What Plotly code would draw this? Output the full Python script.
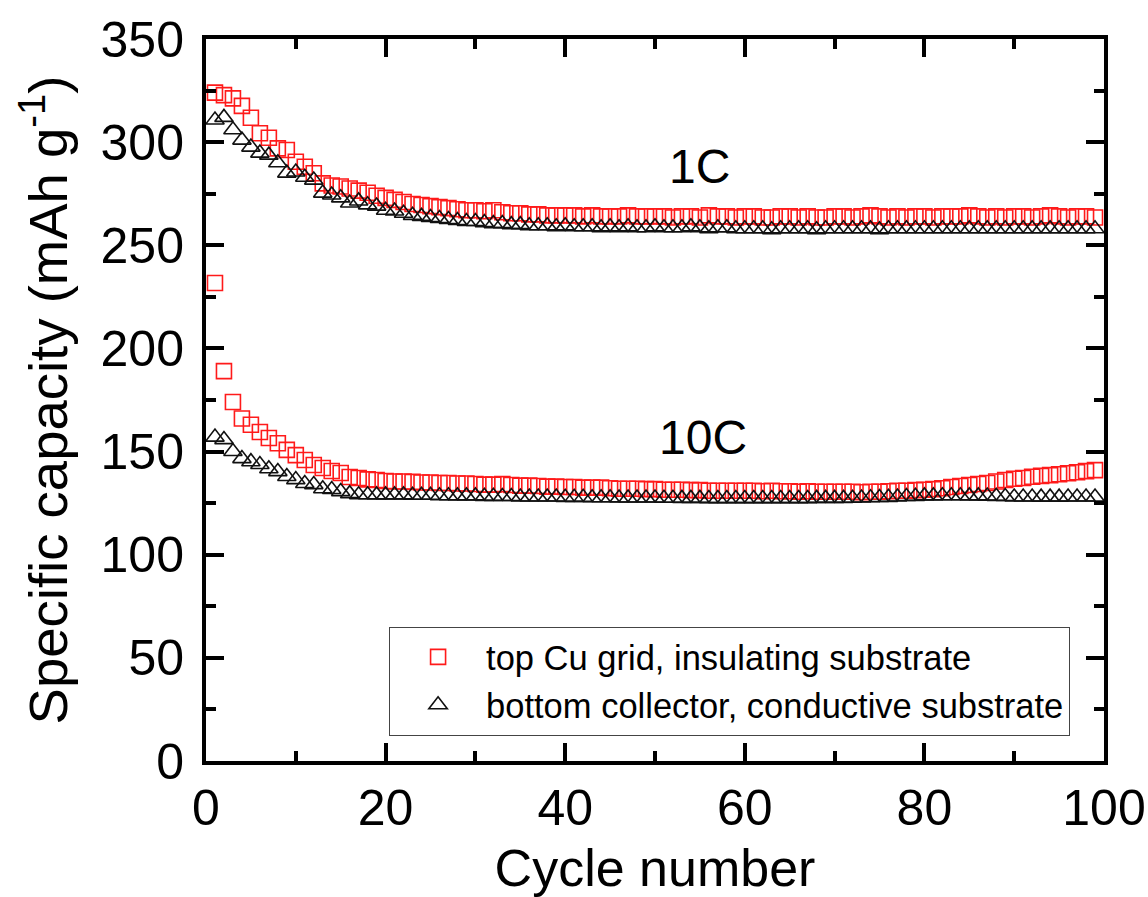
import plotly.graph_objects as go

cycles = list(range(1, 100))

red_1c = [324, 322.8, 321.2, 317.6, 311.8, 304.3, 302.1, 297, 296.2, 290.5,
          288.1, 284.9, 280, 279, 278.5, 277.5, 276.5, 275.5, 274, 273,
          272, 271, 270, 269.5, 269, 268.5, 268, 267.5, 267, 267,
          266.5, 267, 266, 265.5, 265.5, 265, 265, 264.5, 264.5, 264.5,
          264.5, 264, 264.5, 264, 264, 264, 264.5, 264, 264, 264,
          264, 263.5, 264, 264, 263.5, 264.5, 264, 264, 263.5, 264,
          264, 263.5, 263.5, 264, 264, 263.5, 264, 263.5, 263.5, 264,
          264, 263.5, 264, 264.5, 264, 263.5, 264, 263.5, 264, 264,
          263.5, 264, 264, 264, 264.5, 264, 263.5, 264, 263.5, 264,
          264, 263.5, 264, 264.5, 264, 263.5, 264, 264, 263.5]

black_1c = [310.7, 312, 306, 301, 297.6, 294.7, 293.7, 290, 285, 285.5,
            283, 281.6, 275.3, 274.4, 273, 270.5, 271.5, 269.6, 269, 267,
            266.6, 265.5, 264.5, 264, 263.5, 263, 262.5, 262, 261.5, 261.5,
            261, 260.5, 260.5, 260, 260, 259.5, 259.5, 259.5, 259, 259.5,
            259, 259, 259, 258.5, 259, 258.5, 259, 258.5, 258.5, 259,
            258.5, 258.5, 258.5, 259, 258.5, 258, 258.5, 258.5, 258, 258,
            258, 258, 257.5, 258, 258, 258, 258, 257.5, 258, 258,
            258, 258, 258, 258, 257.5, 258, 258, 258, 258, 258,
            258, 258, 258, 258, 258, 258, 258, 258, 258, 258,
            258, 258, 258, 258, 258, 258, 258, 258, 258]

red_10c = [231.7, 189, 174, 166, 163, 159.5, 156.6, 154, 150.8, 148.3,
           145.9, 143.5, 142, 140.6, 139.6, 137.7, 137.2, 136.5, 136.2, 135.7,
           135.5, 135.5, 135.3, 135, 135, 134.8, 134.8, 134.5, 134.5, 134.3,
           134, 134, 134.2, 133.8, 133.5, 133.5, 133.3, 133, 133, 132.8,
           132.8, 132.5, 132.5, 132.5, 132.2, 132, 132, 132, 131.8, 131.8,
           131.5, 131.5, 131.5, 131.3, 131.3, 131, 131, 131, 131, 131,
           131, 130.8, 131, 130.8, 130.8, 130.5, 130.8, 130.5, 130.5, 130.5,
           130.5, 130.5, 130.3, 130.5, 130.5, 130.8, 131, 131, 131.3, 131.5,
           131.8, 132.2, 132.8, 133.3, 133.8, 134.3, 134.8, 135.5, 136.2, 136.8,
           137.2, 137.8, 138.2, 138.6, 139, 139.5, 140, 140.5, 141]

black_10c = [157, 155.8, 150, 146.6, 145.1, 143.7, 141.7, 140.3, 137.9, 136.4,
             134.5, 134, 132, 131.6, 130.6, 129.6, 129.1, 129.1, 129, 129,
             129, 129, 128.8, 128.8, 128.8, 128.6, 128.6, 128.5, 128.5, 128.5,
             128.3, 128.3, 128.2, 128.2, 128, 128, 128, 128, 128, 127.8,
             127.8, 127.8, 127.6, 127.6, 127.6, 127.5, 127.5, 127.5, 127.5, 127.5,
             127.4, 127.4, 127.3, 127.3, 127.3, 127.2, 127.2, 127.2, 127.2, 127.2,
             127.2, 127.2, 127.2, 127.2, 127.2, 127.2, 127.2, 127.3, 127.3, 127.3,
             127.3, 127.4, 127.5, 127.6, 127.7, 127.8, 128, 128.2, 128.3, 128.5,
             128.5, 128.6, 128.6, 128.6, 128.5, 128.5, 128.4, 128.3, 128.2, 128,
             128, 128, 127.9, 127.9, 127.9, 128, 128, 128, 128]

legend_labels = ["top Cu grid, insulating substrate",
                 "bottom collector, conductive substrate"]
rate_labels = ["1C", "10C"]
rate_label_pos = [(55, 288), (55.3, 157)]

x_ticks = [0, 20, 40, 60, 80, 100]
y_ticks = [0, 50, 100, 150, 200, 250, 300, 350]

FONT = "Liberation Sans, Arial, sans-serif"
RED = "#ff1a1a"
BLACK = "#111111"

sq = dict(symbol="square-open", size=15, color=RED, line=dict(width=1.6, color=RED))
tri = dict(symbol="triangle-up-open", size=16, color=BLACK, line=dict(width=1.6, color=BLACK))

fig = go.Figure()
fig.add_trace(go.Scatter(x=cycles, y=red_1c, mode="markers", marker=sq,
                         name=legend_labels[0], legendgroup="red", showlegend=True))
fig.add_trace(go.Scatter(x=cycles, y=red_10c, mode="markers", marker=sq,
                         name=legend_labels[0], legendgroup="red", showlegend=False))
fig.add_trace(go.Scatter(x=cycles, y=black_1c, mode="markers", marker=tri,
                         name=legend_labels[1], legendgroup="black", showlegend=True))
fig.add_trace(go.Scatter(x=cycles, y=black_10c, mode="markers", marker=tri,
                         name=legend_labels[1], legendgroup="black", showlegend=False))

for txt, (ax, ay) in zip(rate_labels, rate_label_pos):
    fig.add_annotation(x=ax, y=ay, text=txt, showarrow=False,
                       font=dict(family=FONT, size=48, color="black"))

axis_common = dict(
    showline=True, linewidth=4, linecolor="black", mirror="allticks",
    ticks="inside", ticklen=18, tickwidth=4, tickcolor="black",
    showgrid=False, zeroline=False,
    tickfont=dict(family=FONT, size=50, color="black"),
)

fig.update_xaxes(range=[0, 100], tickvals=x_ticks,
                 minor=dict(ticks="inside", ticklen=10, tickwidth=4, tickcolor="black", dtick=10, tick0=0),
                 title=dict(text="Cycle number", font=dict(family=FONT, size=52, color="black"), standoff=16),
                 **axis_common)
fig.update_yaxes(range=[0, 350], tickvals=y_ticks,
                 minor=dict(ticks="inside", ticklen=10, tickwidth=4, tickcolor="black", dtick=25, tick0=0),
                 title=dict(text="Specific capacity (mAh g<sup>-1</sup>)",
                            font=dict(family=FONT, size=54.5, color="black"), standoff=16),
                 ticklabelstandoff=8,
                 **axis_common)

fig.update_layout(
    width=1148, height=897,
    margin=dict(l=206, r=44, t=39, b=136, autoexpand=False),
    plot_bgcolor="white", paper_bgcolor="white",
    font=dict(family=FONT, color="black"),
    legend=dict(x=0.962, y=0.035, xanchor="right", yanchor="bottom",
                bgcolor="white", bordercolor="#444", borderwidth=1.2,
                font=dict(family=FONT, size=34.5, color="black"),
                itemwidth=86, tracegroupgap=0),
    showlegend=True,
)

fig.write_html("out.html",
               config={"displayModeBar": False},
               post_script="document.body.style.margin='0';document.body.style.padding='0';"
                           "document.body.style.overflow='hidden';")
